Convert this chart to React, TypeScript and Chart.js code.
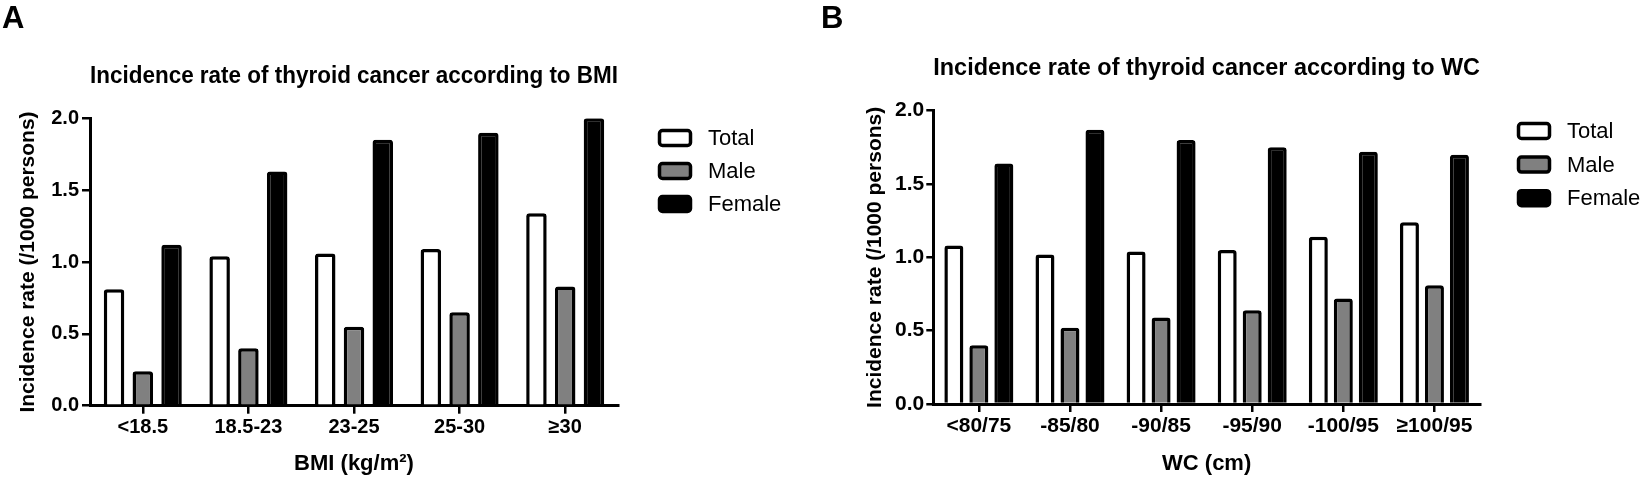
import { useEffect, useRef } from "react";
import { Chart, registerables } from "chart.js";

Chart.register(...registerables);

const FONT = "'Liberation Sans', Arial, Helvetica, sans-serif";

// panel A: BMI
const bmiGroups = ["<18.5", "18.5-23", "23-25", "25-30", "≥30"];
const bmiTotal = [0.81, 1.04, 1.06, 1.09, 1.34];
const bmiMale = [0.24, 0.4, 0.55, 0.65, 0.83];
const bmiFemale = [1.12, 1.63, 1.85, 1.9, 2.0];

// panel B: waist circumference
const wcGroups = ["<80/75", "-85/80", "-90/85", "-95/90", "-100/95", "≥100/95"];
const wcTotal = [1.08, 1.02, 1.04, 1.05, 1.14, 1.24];
const wcMale = [0.4, 0.52, 0.59, 0.64, 0.72, 0.81];
const wcFemale = [1.64, 1.87, 1.8, 1.75, 1.72, 1.7];

const yTicks = [0, 0.5, 1.0, 1.5, 2.0];
const seriesNames = ["Total", "Male", "Female"];
const seriesFill = ["#ffffff", "#808080", "#000000"];

// draws the boxed legend to the right of the plot
const sideLegend = {
  id: "sideLegend",
  afterDraw(chart: any, _args: any, opts: any) {
    const { ctx } = chart;
    ctx.save();
    chart.data.datasets.forEach((ds: any, i: number) => {
      const cy = opts.y + i * opts.gap;
      ctx.beginPath();
      ctx.roundRect(opts.x + 1.5, cy - 7.5, 31, 15, 3);
      ctx.fillStyle = ds.backgroundColor;
      ctx.fill();
      ctx.lineWidth = 3.5;
      ctx.strokeStyle = "#000";
      ctx.stroke();
      ctx.fillStyle = "#000";
      ctx.font = `22px ${FONT}`;
      ctx.textBaseline = "middle";
      ctx.fillText(ds.label, opts.x + 50, cy + 1);
    });
    ctx.restore();
  },
};

type PanelProps = {
  left: number;
  width: number;
  labels: string[];
  series: number[][];
  title: string;
  xTitle: string;
  yAxisW: number;
  plotRight: number;
  plotTop: number;
  plotBottom: number;
  titleY: number;
  yTitleX: number;
  tickFont: number;
  xTickFont: number;
  tickLen: number;
  tickPad: number;
  catPct: number;
  barPct: number;
  legendX: number;
  legendY: number;
  legendGap: number;
};

const H = 482;

const Panel = (p: PanelProps) => {
  const canvasRef = useRef<HTMLCanvasElement>(null);
  const chartRef = useRef<Chart | null>(null);

  useEffect(() => {
    if (!canvasRef.current) return;
    if (chartRef.current) chartRef.current.destroy();

    const titleSize = 23.5;
    const titleLH = titleSize * 1.2;
    const titleTop = p.titleY - titleLH / 2;

    chartRef.current = new Chart(canvasRef.current, {
      type: "bar",
      data: {
        labels: p.labels,
        datasets: p.series.map((vals, i) => ({
          label: seriesNames[i],
          data: vals,
          backgroundColor: seriesFill[i],
          borderColor: "#000",
          borderWidth: 3.5,
          borderRadius: 3,
          borderSkipped: "bottom",
          categoryPercentage: p.catPct,
          barPercentage: p.barPct,
        })),
      },
      options: {
        animation: false,
        responsive: false,
        maintainAspectRatio: false,
        layout: { padding: { left: 0, top: 0, bottom: 0, right: p.width - p.plotRight } },
        plugins: {
          legend: { display: false },
          tooltip: { enabled: false },
          title: {
            display: true,
            text: p.title,
            fullSize: false,
            color: "#000",
            font: { family: FONT, size: titleSize, weight: "bold" },
            padding: { top: titleTop, bottom: p.plotTop - titleTop - titleLH },
          },
          sideLegend: { x: p.legendX, y: p.legendY, gap: p.legendGap },
        } as any,
        scales: {
          x: {
            offset: true,
            afterFit: (s: any) => {
              s.height = H - p.plotBottom;
            },
            grid: {
              offset: false,
              drawOnChartArea: false,
              drawTicks: true,
              tickLength: 8,
              color: "#000",
              lineWidth: 2.5,
            },
            border: { color: "#000", width: 3 },
            ticks: {
              color: "#000",
              padding: 2,
              font: { family: FONT, size: p.xTickFont, weight: "bold" },
            },
            title: {
              display: true,
              text: p.xTitle,
              color: "#000",
              font: { family: FONT, size: 22, weight: "bold" },
              padding: { top: 0, bottom: 5 },
            },
          },
          y: {
            min: 0,
            max: 2,
            afterBuildTicks: (s: any) => {
              s.ticks = yTicks.map((v) => ({ value: v }));
            },
            afterFit: (s: any) => {
              s.width = p.yAxisW;
            },
            grid: {
              drawOnChartArea: false,
              drawTicks: true,
              tickLength: p.tickLen,
              color: "#000",
              lineWidth: 2.5,
            },
            border: { color: "#000", width: 3 },
            ticks: {
              color: "#000",
              padding: p.tickPad,
              font: { family: FONT, size: p.tickFont, weight: "bold" },
              callback: (v: any) => Number(v).toFixed(1),
            },
            title: {
              display: true,
              text: "Incidence rate (/1000 persons)",
              color: "#000",
              font: { family: FONT, size: 21, weight: "bold" },
              padding: { top: p.yTitleX - 12.6, bottom: 0 },
            },
          },
        },
      },
      plugins: [sideLegend],
    });

    return () => {
      if (chartRef.current) {
        chartRef.current.destroy();
        chartRef.current = null;
      }
    };
  }, []);

  return (
    <div style={{ position: "absolute", left: p.left, top: 0, width: p.width, height: H }}>
      <canvas ref={canvasRef} width={p.width} height={H} style={{ width: p.width, height: H }} />
    </div>
  );
};

const letterStyle = {
  position: "absolute" as const,
  top: 0,
  fontFamily: FONT,
  fontWeight: "bold" as const,
  fontSize: 31,
  color: "#000",
};

const App = () => {
  return (
    <div
      style={{
        position: "absolute",
        left: 0,
        top: 0,
        width: 1645,
        height: H,
        background: "#fff",
        overflow: "hidden",
      }}
    >
      <Panel
        left={0}
        width={820}
        labels={bmiGroups}
        series={[bmiTotal, bmiMale, bmiFemale]}
        title="Incidence rate of thyroid cancer according to BMI"
        xTitle="BMI (kg/m²)"
        yAxisW={90}
        plotRight={618}
        plotTop={118.3}
        plotBottom={405.7}
        titleY={76.5}
        yTitleX={28}
        tickFont={20}
        xTickFont={20}
        tickLen={8}
        tickPad={3}
        catPct={0.817}
        barPct={0.713}
        legendX={658}
        legendY={138}
        legendGap={33}
      />
      <Panel
        left={820}
        width={825}
        labels={wcGroups}
        series={[wcTotal, wcMale, wcFemale]}
        title="Incidence rate of thyroid cancer according to WC"
        xTitle="WC (cm)"
        yAxisW={113.3}
        plotRight={660}
        plotTop={110.7}
        plotBottom={404}
        titleY={69}
        yTitleX={55}
        tickFont={21}
        xTickFont={21}
        tickLen={7}
        tickPad={2}
        catPct={0.823}
        barPct={0.76}
        legendX={697}
        legendY={131}
        legendGap={33.6}
      />
      <div style={{ ...letterStyle, left: 2 }}>A</div>
      <div style={{ ...letterStyle, left: 821 }}>B</div>
    </div>
  );
};

export default App;
